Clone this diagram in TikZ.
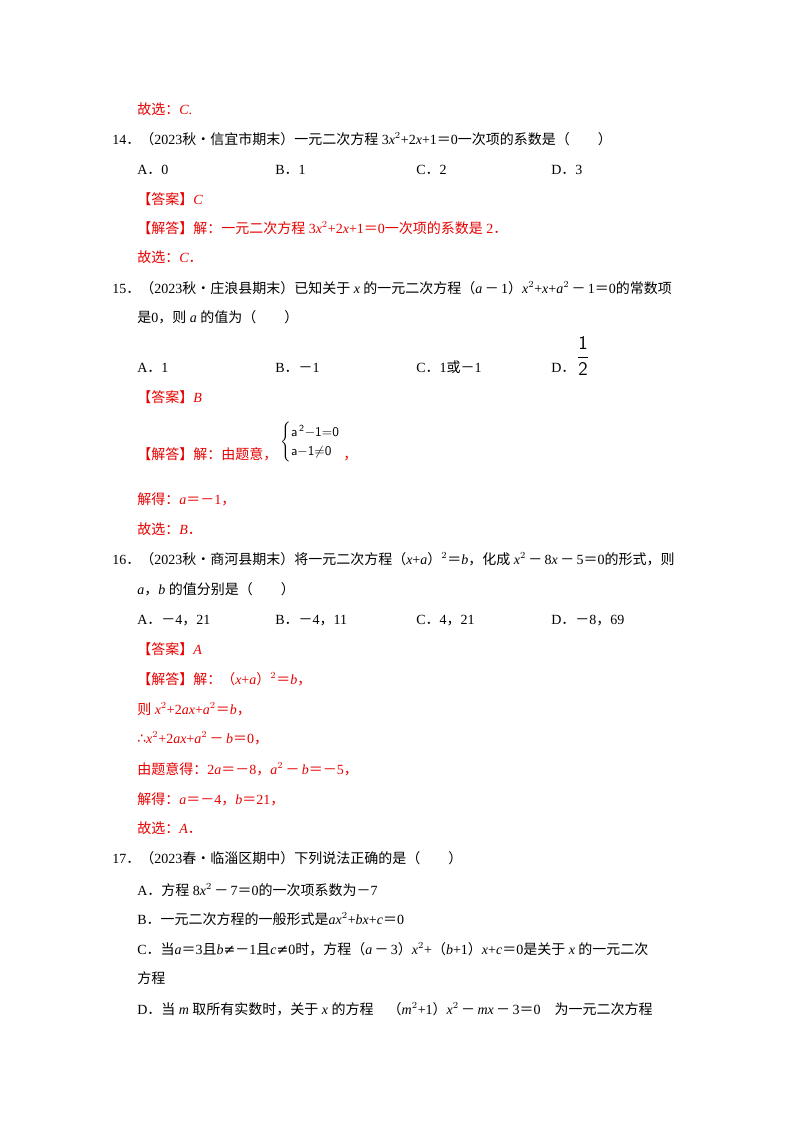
\documentclass[tikz,border=0pt]{standalone}
\usepackage{fontspec}
\setmainfont{Liberation Serif}
\newfontfamily\cjk{Noto Sans CJK SC}
\newfontfamily\sy{DejaVu Sans}
\definecolor{ans}{RGB}{230,0,0}
\begin{document}
\begin{tikzpicture}[x=0.75pt,y=-0.75pt,
  t/.style={anchor=base west,inner sep=0pt,font=\fontsize{10.5pt}{12pt}\selectfont},
  r/.style={t,text=ans}]
\useasboundingbox[fill=white] (0,0) rectangle (800,1132);
\newcommand\C[1]{{\cjk #1}}
\newcommand\D{{\cjk ．}}
\node[r] (l1) at (137,114) {\C{故选：}\textit{C}.};
\node[t] (q14) at (112,144) {14\D\C{（}2023\C{秋•信宜市期末）一元二次方程} 3\textit{x}$^2$+2\textit{x}+1\C{＝}0\C{一次项的系数是（　　）}};
\node[t] (a14) at (137,174) {A\D0};
\node[t] (b14) at (275,174) {B\D1};
\node[t] (c14) at (416,174) {C\D2};
\node[t] (d14) at (551,174) {D\D3};
\node[r] (k14) at (137,204) {\C{【答案】}\textit{C}};
\node[r] (j14) at (137,233) {\C{【解答】解：一元二次方程} 3\textit{x}$^2$+2\textit{x}+1\C{＝}0\C{一次项的系数是} 2\D};
\node[r] (g14) at (137,262) {\C{故选：}\textit{C}\D};
\node[t] (q15) at (112,293) {15\D\C{（}2023\C{秋•庄浪县期末）已知关于} \textit{x} \C{的一元二次方程（}\textit{a}\,\C{－}\,1\C{）}\textit{x}$^2$+\textit{x}+\textit{a}$^2$\,\C{－}\,1\C{＝}0\C{的常数项}};
\node[t] (q15b) at (137,322) {\C{是}0\C{，则} \textit{a} \C{的值为（　　）}};
\node[t] (a15) at (137,372) {A\D1};
\node[t] (b15) at (275,372) {B\D\C{－}1};
\node[t] (c15) at (416,372) {C\D1\C{或－}1};
\node[t] (d15) at (551,372) {D\D};
\node[anchor=center,inner sep=0pt,font=\sffamily\Large] (f15) at (583,356) {$\displaystyle\frac{\mathsf{1}}{\mathsf{2}}$};
\node[r] (k15) at (137,402) {\C{【答案】}\textit{B}};
\node[r] (j15) at (137,459) {\C{【解答】解：由题意，}};
\node[anchor=west,inner sep=0pt,font=\sffamily\fontsize{10pt}{14pt}\selectfont] (sys) at (280,442) {$\left\{\begin{array}{@{}l@{}}\mathsf{a}^{\,\mathsf{2}}\mathsf{-1{=}0}\\ \mathsf{a{-}1}{\neq}\mathsf{0}\end{array}\right.$};
\node[r] (cm) at (343,459) {\C{，}};
\node[r] (s15) at (137,504) {\C{解得：}\textit{a}\C{＝－}1\C{，}};
\node[r] (g15) at (137,534) {\C{故选：}\textit{B}\D};
\node[t] (q16) at (112,564) {16\D\C{（}2023\C{秋•商河县期末）将一元二次方程（}\textit{x}+\textit{a}\C{）}$^2$\C{＝}\textit{b}\C{，化成} \textit{x}$^2$\,\C{－}\,8\textit{x}\,\C{－}\,5\C{＝}0\C{的形式，则}};
\node[t] (q16b) at (137,594) {\textit{a}\C{，}\textit{b} \C{的值分别是（　　）}};
\node[t] (a16) at (137,624) {A\D\C{－}4\C{，}21};
\node[t] (b16) at (275,624) {B\D\C{－}4\C{，}11};
\node[t] (c16) at (416,624) {C\D4\C{，}21};
\node[t] (d16) at (551,624) {D\D\C{－}8\C{，}69};
\node[r] (k16) at (137,654) {\C{【答案】}\textit{A}};
\node[r] (j16) at (137,684) {\C{【解答】解：（}\textit{x}+\textit{a}\C{）}$^2$\C{＝}\textit{b}\C{，}};
\node[r] (e1) at (137,714) {\C{则} \textit{x}$^2$+2\textit{ax}+\textit{a}$^2$\C{＝}\textit{b}\C{，}};
\node[r] (e2) at (137,743) {{\sy ∴}\textit{x}$^2$+2\textit{ax}+\textit{a}$^2$\,\C{－}\,\textit{b}\C{＝}0\C{，}};
\node[r] (e3) at (137,774) {\C{由题意得：}2\textit{a}\C{＝－}8\C{，}\textit{a}$^2$\,\C{－}\,\textit{b}\C{＝－}5\C{，}};
\node[r] (e4) at (137,804) {\C{解得：}\textit{a}\C{＝－}4\C{，}\textit{b}\C{＝}21\C{，}};
\node[r] (g16) at (137,833) {\C{故选：}\textit{A}\D};
\node[t] (q17) at (112,863) {17\D\C{（}2023\C{春•临淄区期中）下列说法正确的是（　　）}};
\node[t] (a17) at (137,895) {A\D\C{方程} 8\textit{x}$^2$\,\C{－}\,7\C{＝}0\C{的一次项系数为－}7};
\node[t] (b17) at (137,924) {B\D\C{一元二次方程的一般形式是}\textit{ax}$^2$+\textit{bx}+\textit{c}\C{＝}0};
\node[t] (c17) at (137,954) {C\D\C{当}\textit{a}\C{＝}3\C{且}\textit{b}{\sy ≠}\C{－}1\C{且}\textit{c}{\sy ≠}0\C{时，方程（}\textit{a}\,\C{－}\,3\C{）}\textit{x}$^2$+\C{（}\textit{b}+1\C{）}\textit{x}+\textit{c}\C{＝}0\C{是关于} \textit{x} \C{的一元二次}};
\node[t] (c17b) at (137,983) {\C{方程}};
\node[t] (d17) at (137,1014) {D\D\C{当} \textit{m} \C{取所有实数时，关于} \textit{x} \C{的方程　（}\textit{m}$^2$+1\C{）}\textit{x}$^2$\,\C{－}\,\textit{mx}\,\C{－}\,3\C{＝}0\C{　为一元二次方程}};
\end{tikzpicture}
\end{document}
